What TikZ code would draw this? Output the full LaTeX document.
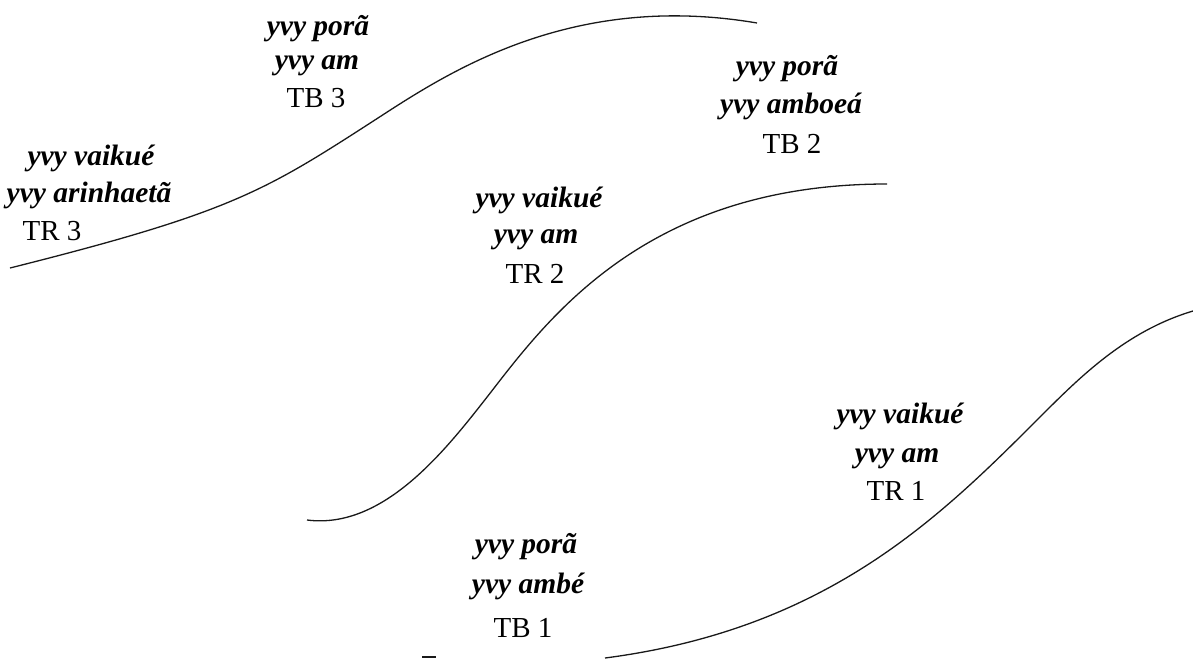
\documentclass[tikz,border=0pt]{standalone}
\usepackage{fontspec}
\setmainfont{Liberation Serif}
\begin{document}
\begin{tikzpicture}[x=1pt,y=-1pt,
  lab/.style={anchor=base, inner sep=0pt, font=\fontsize{29.5}{34}\selectfont\bfseries\itshape},
  code/.style={anchor=base, inner sep=0pt, font=\fontsize{29}{34}\selectfont},
  wave/.style={line width=1.3pt, black!90, line join=round}]
\useasboundingbox (0,0) rectangle (1193,659);

% curve 1 (top)
\coordinate (c1a) at (10,268);
\coordinate (c1m) at (378,118);
\coordinate (c1b) at (757,23);
\draw[wave] (c1a) .. controls (233,212) and (265,191) .. (c1m)
  .. controls (450,71.2) and (572.4,-8.4) .. (c1b);

% curve 2 (middle)
\coordinate (c2a) at (307,520);
\coordinate (c2m) at (491,392);
\coordinate (c2b) at (887,184);
\draw[wave] (c2a) .. controls (385,530) and (448,447) .. (c2m)
  .. controls (552,313) and (651,184) .. (c2b);

% curve 3 (bottom right)
\coordinate (c3a) at (605,658);
\coordinate (c3m) at (1040,417);
\coordinate (c3b) at (1193,311);
\draw[wave] (c3a) .. controls (828,629) and (940,517) .. (c3m)
  .. controls (1080,377) and (1126,331) .. (c3b);

% small mark at bottom
\coordinate (mk1) at (422,657);
\coordinate (mk2) at (436,657);
\draw[wave] (mk1) -- (mk2);

% TB 3
\node[lab]  (tb3a) at (318,35)  {yvy porã};
\node[lab]  (tb3b) at (317,69)  {yvy am};
\node[code] (tb3c) at (316,107) {TB 3};

% TR 3
\node[lab]  (tr3a) at (91,165)  {yvy vaikué};
\node[lab]  (tr3b) at (89,202)  {yvy arinhaetã};
\node[code] (tr3c) at (52,240)  {TR 3};

% TB 2
\node[lab]  (tb2a) at (787,75)  {yvy porã};
\node[lab]  (tb2b) at (791,113) {yvy amboeá};
\node[code] (tb2c) at (792,153) {TB 2};

% TR 2
\node[lab]  (tr2a) at (539,207) {yvy vaikué};
\node[lab]  (tr2b) at (536,243) {yvy am};
\node[code] (tr2c) at (535,283) {TR 2};

% TR 1
\node[lab]  (tr1a) at (900,423) {yvy vaikué};
\node[lab]  (tr1b) at (897,462) {yvy am};
\node[code] (tr1c) at (896,500) {TR 1};

% TB 1
\node[lab]  (tb1a) at (526,553) {yvy porã};
\node[lab]  (tb1b) at (528,593) {yvy ambé};
\node[code] (tb1c) at (523,637) {TB 1};
\end{tikzpicture}
\end{document}
